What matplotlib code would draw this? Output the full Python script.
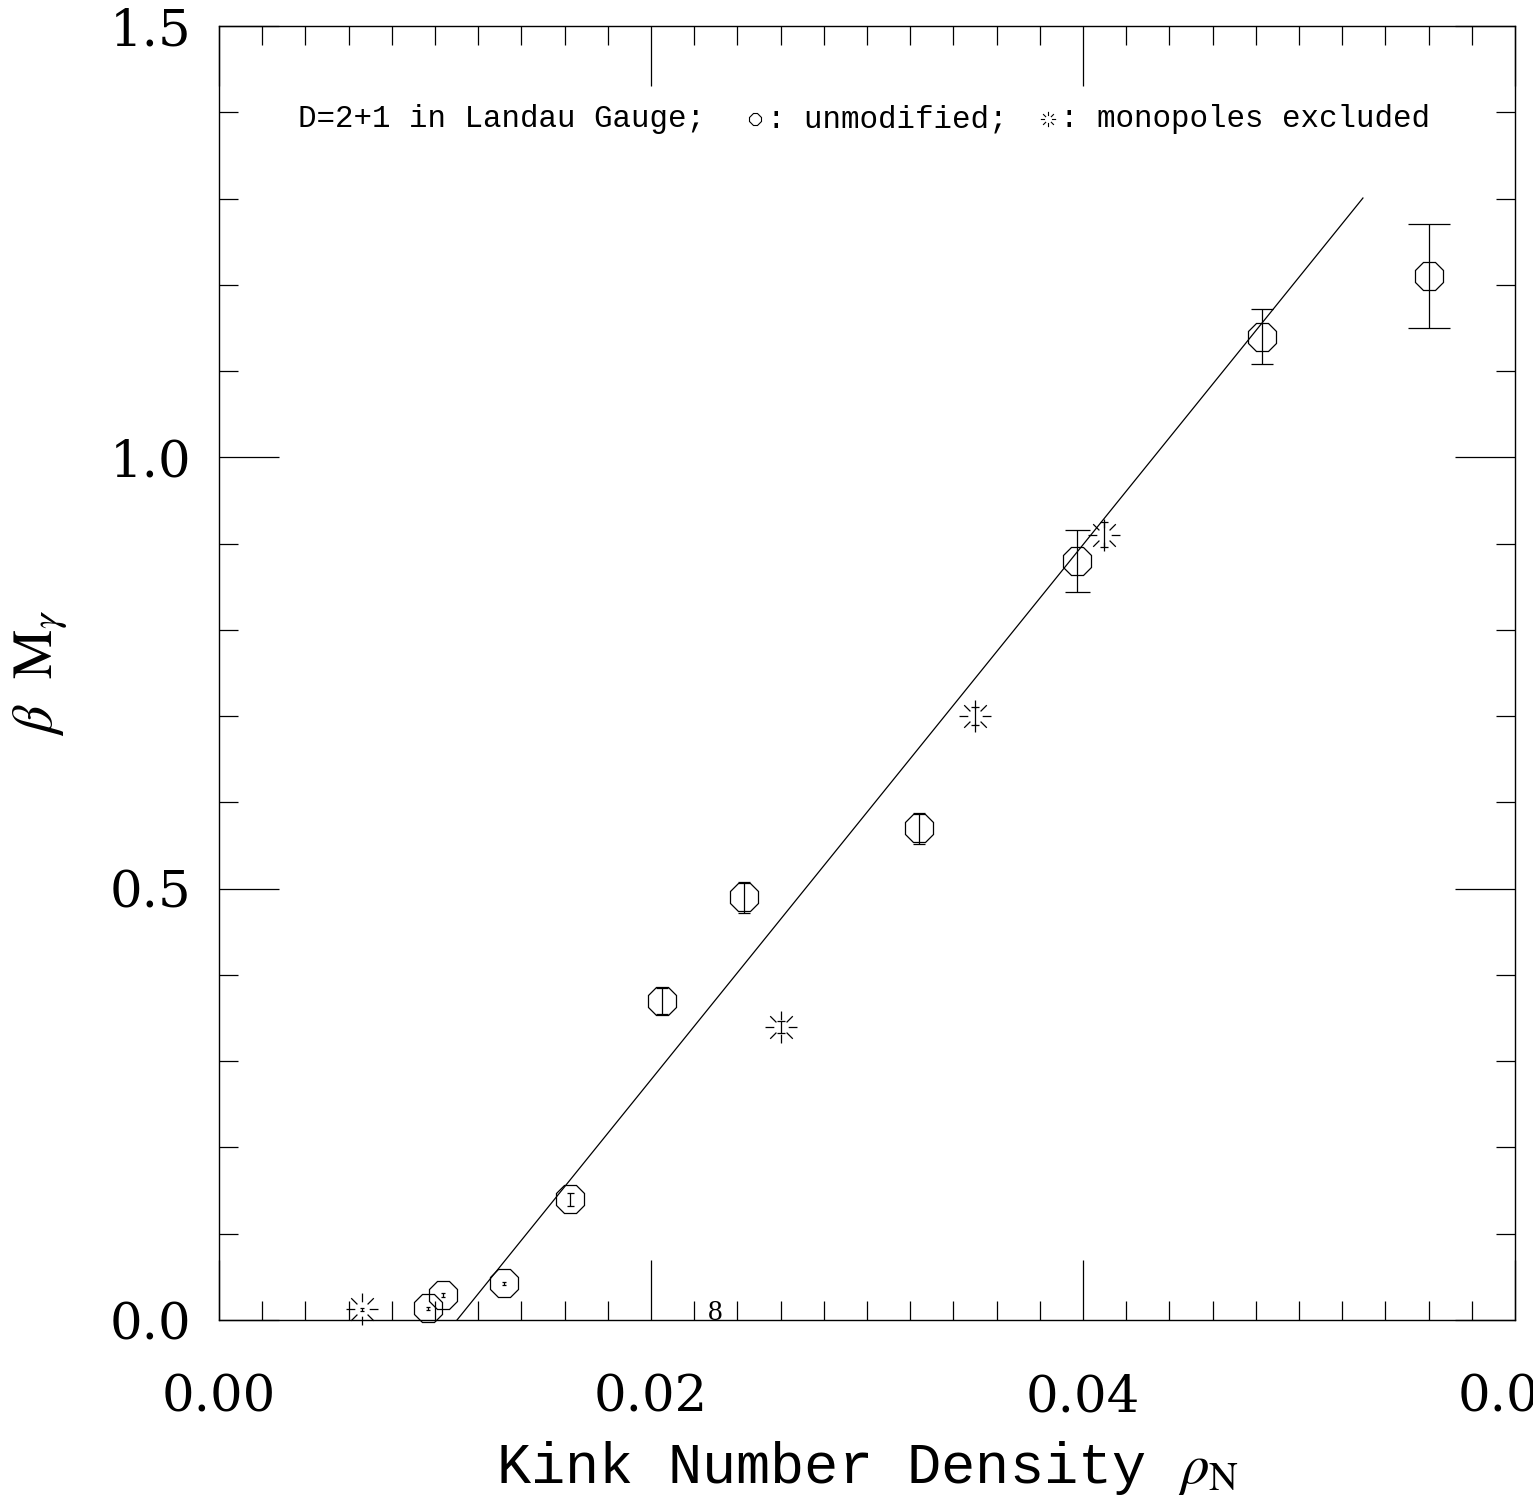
import numpy as np
import matplotlib
matplotlib.use("Agg")
import matplotlib.pyplot as plt
from matplotlib.path import Path

plt.rcParams['mathtext.fontset'] = 'stix'

# ---------------- data ----------------
circ_x = [0.00969, 0.01038, 0.01321, 0.01625, 0.02050, 0.02431, 0.03241, 0.03971, 0.04827, 0.05602]
circ_y = [0.0136, 0.0290, 0.0425, 0.1399, 0.3698, 0.4903, 0.5700, 0.8798, 1.1398, 1.2102]
circ_err = [0.002, 0.002, 0.002, 0.0077, 0.0156, 0.018, 0.0178, 0.036, 0.0317, 0.0599]

star_x = [0.00663, 0.0260, 0.0350, 0.04099]
star_y = [0.0124, 0.3396, 0.700, 0.910]
star_err = [0.002, 0.007, 0.0105, 0.0145]

fit_x = np.array([0.01102, 0.05296])
fit_slope = 31.01
fit_intercept = -0.3417

xticks = [0.0, 0.02, 0.04, 0.06]
xticklabels = ["0.00", "0.02", "0.04", "0.06"]
yticks = [0.0, 0.5, 1.0, 1.5]
yticklabels = ["0.0", "0.5", "1.0", "1.5"]

# ---------------- style ----------------
circ_caps_px = [4, 4, 4, 7, 12, 12, 12, 25, 22, 42]   # full cap widths (px)
star_caps_px = [4, 8, 8, 8]
px2pt = 72.0 / 100.0

SERIF = 'Liberation Serif'
TICKF = 'DejaVu Serif'
MONO = 'Liberation Mono'

fig = plt.figure(figsize=(15.33, 15.02), dpi=100)
ax = fig.add_axes([219 / 1533, 1 - 1320 / 1502, 1296 / 1533, 1294 / 1502])

# star marker: 8 rays with a hollow centre
ang = np.deg2rad(np.arange(0, 360, 45))
verts, codes = [], []
for a in ang:
    verts += [(0.45 * np.cos(a), 0.45 * np.sin(a)), (np.cos(a), np.sin(a))]
    codes += [Path.MOVETO, Path.LINETO]
star_path = Path(verts, codes)

# fit line
ax.plot(fit_x, fit_slope * fit_x + fit_intercept, color='k', lw=0.9)

# circles with error bars
for xi, yi, ei, cw in zip(circ_x, circ_y, circ_err, circ_caps_px):
    ax.errorbar(xi, yi, yerr=ei, fmt='none', ecolor='k', elinewidth=0.9,
                capsize=cw / 2 * px2pt, capthick=0.9)
ax.plot(circ_x, circ_y, ls='none', marker='8', ms=22.5, mfc='none', mec='k',
        mew=0.9, clip_on=False)

# stars with error bars
for xi, yi, ei, cw in zip(star_x, star_y, star_err, star_caps_px):
    ax.errorbar(xi, yi, yerr=ei, fmt='none', ecolor='k', elinewidth=0.9,
                capsize=cw / 2 * px2pt, capthick=0.9)
ax.plot(star_x, star_y, ls='none', marker=star_path, ms=23, mfc='none',
        mec='k', mew=0.9, clip_on=False)

# axes
ax.set_xlim(0, 0.06)
ax.set_ylim(0, 1.5)
ax.set_xticks(xticks)
ax.set_xticklabels(xticklabels, fontfamily=TICKF, fontsize=37)
ax.set_yticks(yticks)
ax.set_yticklabels(yticklabels, fontfamily=TICKF, fontsize=37)
ax.set_xticks(np.arange(0, 0.0601, 0.002), minor=True)
ax.set_yticks(np.arange(0, 1.501, 0.1), minor=True)
ax.tick_params(which='both', direction='in', top=True, right=True, width=0.9)
ax.tick_params(which='major', length=43)
ax.tick_params(which='minor', length=13.7)
ax.tick_params(axis='x', which='major', pad=38)
ax.tick_params(axis='y', which='major', pad=20)
for s in ax.spines.values():
    s.set_linewidth(1.0)

ax.set_xlabel(r"Kink Number Density $\rho_\mathrm{N}$", fontfamily=MONO, fontsize=41)
ax.xaxis.set_label_coords(0.5, -0.092)
ax.set_ylabel(r"$\beta\ \ \mathrm{M}_\gamma$", fontsize=40)
ax.yaxis.set_label_coords(-0.115, (1320 - 673) / 1294)

# stray label near bottom
ax.text(0.02296, 0.008, "8", ha='center', va='center', fontfamily=SERIF, fontsize=21)

# legend-like header text with inline symbols
ly = (1320 - 119) / 1294
t1 = ax.text((298 - 219) / 1296, ly, "D=2+1 in Landau Gauge;", transform=ax.transAxes,
             ha='left', va='center', fontfamily=MONO, fontsize=22.2)
fig.canvas.draw()
inv = ax.transAxes.inverted()
bb = t1.get_window_extent()
cy_disp = (bb.y0 + bb.y1) / 2
cx = bb.x1 + 50
ax.plot(*inv.transform((cx, cy_disp)), transform=ax.transAxes, marker='8', ms=9,
        mfc='none', mec='k', mew=0.8, ls='none')
t2 = ax.text(*inv.transform((cx + 12, cy_disp)), ": unmodified;", transform=ax.transAxes,
             ha='left', va='center', fontfamily=MONO, fontsize=22.2)
fig.canvas.draw()
bb = t2.get_window_extent()
sx = bb.x1 + 40
ax.plot(*inv.transform((sx, cy_disp)), transform=ax.transAxes, marker=star_path, ms=11,
        mfc='none', mec='k', mew=0.8, ls='none')
ax.text(*inv.transform((sx + 13, cy_disp)), ": monopoles excluded", transform=ax.transAxes,
        ha='left', va='center', fontfamily=MONO, fontsize=22.2)

fig.savefig("out.png", dpi=100)
